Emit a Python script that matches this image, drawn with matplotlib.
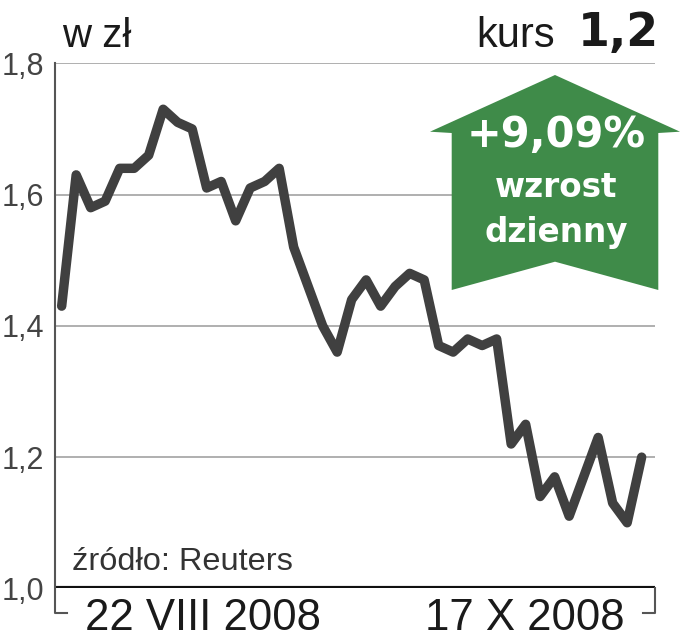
import matplotlib.pyplot as plt
from matplotlib.patches import Polygon

# kurs zamkniecia, sesje od 22 VIII 2008 do 17 X 2008
prices = [1.43, 1.63, 1.58, 1.59, 1.64, 1.64, 1.66, 1.73, 1.71, 1.70,
          1.61, 1.62, 1.56, 1.61, 1.62, 1.64, 1.52, 1.46, 1.40, 1.36,
          1.44, 1.47, 1.43, 1.46, 1.48, 1.47, 1.37, 1.36, 1.38, 1.37,
          1.38, 1.22, 1.25, 1.14, 1.17, 1.11, 1.17, 1.23, 1.13, 1.10,
          1.20]
sessions = list(range(len(prices)))
y_ticks = [1.0, 1.2, 1.4, 1.6, 1.8]
y_labels = ['1,0', '1,2', '1,4', '1,6', '1,8']
date_labels = ['22 VIII 2008', '17 X 2008']
change_text = '+9,09%'
last_price = '1,2'

fig = plt.figure(figsize=(6.8, 6.4), dpi=100)
ax = fig.add_axes([55 / 680, (640 - 588.4) / 640, 600 / 680, (588.4 - 63.3) / 640])

ax.set_xlim(-0.46, 40.92)
ax.set_ylim(1.0, 1.8)
for v in y_ticks[1:]:
    ax.axhline(v, color='#9a9a9a', lw=1.1, zorder=1)
ax.axhline(1.0, color='#111111', lw=3.0, zorder=3)
ax.plot(sessions, prices, color='#404040', lw=6.8,
        solid_joinstyle='round', solid_capstyle='round', zorder=4)

ax.set_yticks(y_ticks)
ax.set_yticklabels(y_labels, family='Liberation Sans', fontsize=22, color='#444444')
ax.tick_params(axis='y', length=0, pad=8)
ax.set_xticks([])
for s in ax.spines.values():
    s.set_visible(False)

# nakladka w pikselach na napisy i strzalke
ov = fig.add_axes([0, 0, 1, 1])
ov.set_xlim(0, 680)
ov.set_ylim(640, 0)
ov.axis('off')
ov.patch.set_alpha(0)

ov.plot([55, 55, 67], [63, 613, 613], color='#555555', lw=1.5)
ov.plot([643, 655, 655], [613, 613, 588], color='#555555', lw=1.5)

arrow = Polygon([(555, 75), (680, 131.7), (658.3, 133), (658.3, 290),
                 (555, 261.7), (451.7, 290), (451.7, 133), (430, 131.7)],
                closed=True, facecolor='#3f8b49', edgecolor='none')
ov.add_patch(arrow)
ov.text(556, 147, change_text, color='white', ha='center', va='baseline',
        family='DejaVu Sans', fontweight='bold', fontsize=30)
ov.text(556, 197, 'wzrost', color='white', ha='center', va='baseline',
        family='DejaVu Sans', fontweight='bold', fontsize=23.5)
ov.text(556, 242, 'dzienny', color='white', ha='center', va='baseline',
        family='DejaVu Sans', fontweight='bold', fontsize=23.5)

ov.text(62, 47, 'w zł', family='Liberation Sans', fontsize=29,
        color='#1a1a1a', va='baseline')
ov.text(476, 47, 'kurs', family='Liberation Sans', fontsize=30,
        color='#1a1a1a', va='baseline')
ov.text(578, 46, last_price, family='DejaVu Sans', fontweight='bold',
        fontsize=33, color='#1a1a1a', va='baseline')
ov.text(72, 570, 'źródło: Reuters', family='Liberation Sans', fontsize=23.4,
        color='#333333', va='baseline')
ov.text(85, 630, date_labels[0], family='Liberation Sans', fontsize=31.5,
        color='#1a1a1a', va='baseline')
ov.text(425, 630, date_labels[1], family='Liberation Sans', fontsize=31.5,
        color='#1a1a1a', va='baseline')

fig.savefig('out.png', dpi=100)
